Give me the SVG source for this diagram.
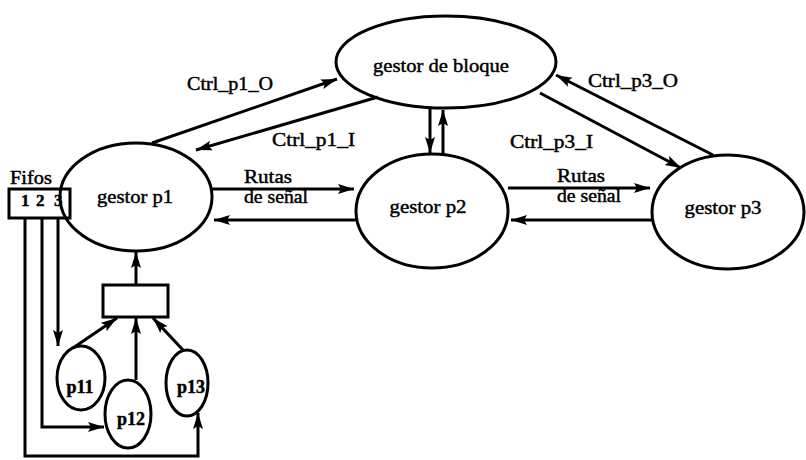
<svg xmlns="http://www.w3.org/2000/svg" width="806" height="460" viewBox="0 0 806 460">
  <defs>
    <marker id="arrow" markerUnits="userSpaceOnUse" markerWidth="18" markerHeight="12" refX="16" refY="6" orient="auto">
      <path d="M0,1 L16,6 L0,11 L3,6 Z" fill="#000"/>
    </marker>
    <style>
      .node { fill: none; stroke: #000; stroke-width: 3; }
      .wire { fill: none; stroke: #000; stroke-width: 3; marker-end: url(#arrow); }
      .line { fill: none; stroke: #000; stroke-width: 3; }
      text { font-family: "Liberation Serif", "Times New Roman", serif; fill: #000; stroke: #000; stroke-width: 0.45; }
      .lbl { font-size: 18px; }
      .name { font-size: 19px; text-anchor: middle; }
      .proc { font-size: 18px; font-weight: bold; text-anchor: middle; }
      .num { font-size: 17px; font-weight: bold; }
    </style>
  </defs>
  <rect width="806" height="460" fill="#fff"/>

  <!-- block manager -->
  <g id="gestor-bloque">
    <ellipse class="node" cx="446" cy="62" rx="110" ry="46"/>
    <text class="name" x="441" y="72" textLength="136" lengthAdjust="spacingAndGlyphs">gestor de bloque</text>
  </g>

  <g id="gestor-p1">
    <ellipse class="node" cx="136" cy="197" rx="76" ry="54"/>
    <text class="name" x="135" y="203" textLength="76" lengthAdjust="spacingAndGlyphs">gestor p1</text>
  </g>

  <g id="gestor-p2">
    <ellipse class="node" cx="432" cy="211" rx="76" ry="57"/>
    <text class="name" x="428" y="213" textLength="77" lengthAdjust="spacingAndGlyphs">gestor p2</text>
  </g>

  <g id="gestor-p3">
    <ellipse class="node" cx="728" cy="212" rx="76" ry="57"/>
    <text class="name" x="723" y="214" textLength="77" lengthAdjust="spacingAndGlyphs">gestor p3</text>
  </g>

  <!-- fifo buffer with three slots -->
  <g id="fifos">
    <text class="lbl" x="10" y="184" textLength="42" lengthAdjust="spacingAndGlyphs">Fifos</text>
    <rect class="line" x="9" y="189" width="61" height="29"/>
    <text class="num" x="21" y="206">1</text>
    <text class="num" x="36" y="206">2</text>
    <text class="num" x="54" y="206">3</text>
  </g>

  <!-- merger box below p1 -->
  <g id="mezclador">
    <rect class="line" x="103" y="285" width="65" height="32"/>
  </g>

  <g id="p11">
    <ellipse class="node" cx="81" cy="378" rx="24" ry="32"/>
    <text class="proc" x="80" y="393">p11</text>
  </g>
  <g id="p12">
    <ellipse class="node" cx="128" cy="414" rx="23" ry="34"/>
    <text class="proc" x="131" y="425">p12</text>
  </g>
  <g id="p13">
    <ellipse class="node" cx="187" cy="383" rx="21" ry="33"/>
    <text class="proc" x="191" y="393">p13</text>
  </g>

  <g id="conectores">
    <!-- control channels p1 -->
    <line class="wire" x1="152" y1="143" x2="337" y2="79"/>
    <line class="wire" x1="378" y1="97" x2="196" y2="150"/>
    <!-- p2 <-> block manager -->
    <line class="wire" x1="430" y1="109" x2="430" y2="153"/>
    <line class="wire" x1="443" y1="155" x2="443" y2="110"/>
    <!-- control channels p3 -->
    <line class="wire" x1="713" y1="155" x2="556" y2="75"/>
    <line class="wire" x1="540" y1="93" x2="681" y2="168"/>
    <!-- signal routes -->
    <line class="wire" x1="212" y1="189" x2="354" y2="189"/>
    <line class="wire" x1="357" y1="220" x2="214" y2="220"/>
    <line class="wire" x1="508" y1="188" x2="650" y2="188"/>
    <line class="wire" x1="652" y1="220" x2="511" y2="220"/>
    <!-- fifo outputs -->
    <polyline class="wire" points="58,218 58,346"/>
    <polyline class="wire" points="42,218 42,427 104,427"/>
    <polyline class="wire" points="25,218 25,456 198,456 198,413"/>
    <!-- processes into merger, merger into p1 -->
    <line class="wire" x1="136" y1="285" x2="136" y2="252"/>
    <line class="wire" x1="73" y1="348" x2="117" y2="318"/>
    <line class="wire" x1="136" y1="380" x2="136" y2="318"/>
    <line class="wire" x1="183" y1="350" x2="153" y2="318"/>
  </g>

  <g id="etiquetas">
    <text class="lbl" x="187" y="90" textLength="86" lengthAdjust="spacingAndGlyphs">Ctrl_p1_O</text>
    <text class="lbl" x="272" y="146" textLength="83" lengthAdjust="spacingAndGlyphs">Ctrl_p1_I</text>
    <text class="lbl" x="588" y="87" textLength="90" lengthAdjust="spacingAndGlyphs">Ctrl_p3_O</text>
    <text class="lbl" x="510" y="148" textLength="83" lengthAdjust="spacingAndGlyphs">Ctrl_p3_I</text>
    <text class="lbl" x="244" y="183" textLength="48" lengthAdjust="spacingAndGlyphs">Rutas</text>
    <text class="lbl" x="244" y="203" textLength="64" lengthAdjust="spacingAndGlyphs">de señal</text>
    <text class="lbl" x="557" y="182" textLength="48" lengthAdjust="spacingAndGlyphs">Rutas</text>
    <text class="lbl" x="557" y="202" textLength="64" lengthAdjust="spacingAndGlyphs">de señal</text>
  </g>
</svg>
